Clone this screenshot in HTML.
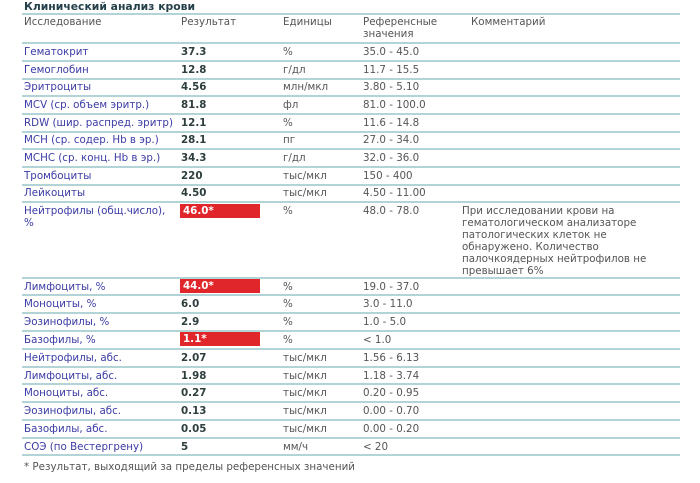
<!DOCTYPE html>
<html><head><meta charset="utf-8">
<style>
html,body{margin:0;padding:0;background:#fff;}
body{width:700px;height:483px;position:relative;overflow:hidden;font-family:"DejaVu Sans","Liberation Sans",sans-serif;font-size:10.3px;color:#555;}
.t{position:absolute;white-space:nowrap;line-height:12px;}
.ln{position:absolute;left:22px;width:658px;height:2px;background:#b2d4d7;}
.title{font-weight:bold;color:#24404a;font-size:10.8px;}
.n{color:#3b3ba6;}
.v{font-weight:bold;color:#2e3d3d;}
.u{color:#555;}
.r{color:#555;}
.red{position:absolute;left:180px;width:80px;height:14px;background:#e1262b;color:#fff;font-weight:bold;line-height:14px;padding-left:3px;box-sizing:border-box;}
</style></head><body>
<div class="t title" style="left:24px;top:1px;">Клинический анализ крови</div>
<div class="ln" style="top:13px"></div>
<div class="t" style="left:24px;top:16px;">Исследование</div>
<div class="t" style="left:181px;top:16px;">Результат</div>
<div class="t" style="left:283px;top:16px;">Единицы</div>
<div class="t" style="left:363px;top:16px;">Референсные<br>значения</div>
<div class="t" style="left:471px;top:16px;">Комментарий</div>
<div class="ln" style="top:42px"></div>

<!-- rows part 1 -->
<div class="t n" style="left:24px;top:46px">Гематокрит</div><div class="t v" style="left:181px;top:46px">37.3</div><div class="t u" style="left:283px;top:46px">%</div><div class="t r" style="left:363px;top:46px">35.0 - 45.0</div>
<div class="ln" style="top:60px"></div>
<div class="t n" style="left:24px;top:63.6px">Гемоглобин</div><div class="t v" style="left:181px;top:63.6px">12.8</div><div class="t u" style="left:283px;top:63.6px">г/дл</div><div class="t r" style="left:363px;top:63.6px">11.7 - 15.5</div>
<div class="ln" style="top:77.6px"></div>
<div class="t n" style="left:24px;top:81.3px">Эритроциты</div><div class="t v" style="left:181px;top:81.3px">4.56</div><div class="t u" style="left:283px;top:81.3px">млн/мкл</div><div class="t r" style="left:363px;top:81.3px">3.80 - 5.10</div>
<div class="ln" style="top:95.3px"></div>
<div class="t n" style="left:24px;top:98.9px">MCV (ср. объем эритр.)</div><div class="t v" style="left:181px;top:98.9px">81.8</div><div class="t u" style="left:283px;top:98.9px">фл</div><div class="t r" style="left:363px;top:98.9px">81.0 - 100.0</div>
<div class="ln" style="top:112.9px"></div>
<div class="t n" style="left:24px;top:116.6px">RDW (шир. распред. эритр)</div><div class="t v" style="left:181px;top:116.6px">12.1</div><div class="t u" style="left:283px;top:116.6px">%</div><div class="t r" style="left:363px;top:116.6px">11.6 - 14.8</div>
<div class="ln" style="top:130.6px"></div>
<div class="t n" style="left:24px;top:134.2px">MCH (ср. содер. Hb в эр.)</div><div class="t v" style="left:181px;top:134.2px">28.1</div><div class="t u" style="left:283px;top:134.2px">пг</div><div class="t r" style="left:363px;top:134.2px">27.0 - 34.0</div>
<div class="ln" style="top:148.2px"></div>
<div class="t n" style="left:24px;top:151.9px">MCHC (ср. конц. Hb в эр.)</div><div class="t v" style="left:181px;top:151.9px">34.3</div><div class="t u" style="left:283px;top:151.9px">г/дл</div><div class="t r" style="left:363px;top:151.9px">32.0 - 36.0</div>
<div class="ln" style="top:165.9px"></div>
<div class="t n" style="left:24px;top:169.5px">Тромбоциты</div><div class="t v" style="left:181px;top:169.5px">220</div><div class="t u" style="left:283px;top:169.5px">тыс/мкл</div><div class="t r" style="left:363px;top:169.5px">150 - 400</div>
<div class="ln" style="top:183.5px"></div>
<div class="t n" style="left:24px;top:187.2px">Лейкоциты</div><div class="t v" style="left:181px;top:187.2px">4.50</div><div class="t u" style="left:283px;top:187.2px">тыс/мкл</div><div class="t r" style="left:363px;top:187.2px">4.50 - 11.00</div>
<div class="ln" style="top:201.2px"></div>

<!-- neutrophils -->
<div class="t n" style="left:24px;top:205px">Нейтрофилы (общ.число),<br>%</div>
<div class="red" style="top:204px">46.0*</div>
<div class="t u" style="left:283px;top:205px">%</div>
<div class="t r" style="left:363px;top:205px">48.0 - 78.0</div>
<div class="t r" style="left:462px;top:205px">При исследовании крови на<br>гематологическом анализаторе<br>патологических клеток не<br>обнаружено. Количество<br>палочкоядерных нейтрофилов не<br>превышает 6%</div>
<div class="ln" style="top:276.5px"></div>

<!-- rows part 2 -->
<div class="red" style="top:279px">44.0*</div><div class="t n" style="left:24px;top:280.5px">Лимфоциты, %</div><div class="t u" style="left:283px;top:280.5px">%</div><div class="t r" style="left:363px;top:280.5px">19.0 - 37.0</div>
<div class="ln" style="top:294.3px"></div>
<div class="t n" style="left:24px;top:298.3px">Моноциты, %</div><div class="t v" style="left:181px;top:298.3px">6.0</div><div class="t u" style="left:283px;top:298.3px">%</div><div class="t r" style="left:363px;top:298.3px">3.0 - 11.0</div>
<div class="ln" style="top:312.1px"></div>
<div class="t n" style="left:24px;top:316.1px">Эозинофилы, %</div><div class="t v" style="left:181px;top:316.1px">2.9</div><div class="t u" style="left:283px;top:316.1px">%</div><div class="t r" style="left:363px;top:316.1px">1.0 - 5.0</div>
<div class="ln" style="top:329.9px"></div>
<div class="red" style="top:332.4px">1.1*</div><div class="t n" style="left:24px;top:333.9px">Базофилы, %</div><div class="t u" style="left:283px;top:333.9px">%</div><div class="t r" style="left:363px;top:333.9px">&lt; 1.0</div>
<div class="ln" style="top:347.7px"></div>
<div class="t n" style="left:24px;top:351.7px">Нейтрофилы, абс.</div><div class="t v" style="left:181px;top:351.7px">2.07</div><div class="t u" style="left:283px;top:351.7px">тыс/мкл</div><div class="t r" style="left:363px;top:351.7px">1.56 - 6.13</div>
<div class="ln" style="top:365.5px"></div>
<div class="t n" style="left:24px;top:369.5px">Лимфоциты, абс.</div><div class="t v" style="left:181px;top:369.5px">1.98</div><div class="t u" style="left:283px;top:369.5px">тыс/мкл</div><div class="t r" style="left:363px;top:369.5px">1.18 - 3.74</div>
<div class="ln" style="top:383.3px"></div>
<div class="t n" style="left:24px;top:387.3px">Моноциты, абс.</div><div class="t v" style="left:181px;top:387.3px">0.27</div><div class="t u" style="left:283px;top:387.3px">тыс/мкл</div><div class="t r" style="left:363px;top:387.3px">0.20 - 0.95</div>
<div class="ln" style="top:401.1px"></div>
<div class="t n" style="left:24px;top:405.1px">Эозинофилы, абс.</div><div class="t v" style="left:181px;top:405.1px">0.13</div><div class="t u" style="left:283px;top:405.1px">тыс/мкл</div><div class="t r" style="left:363px;top:405.1px">0.00 - 0.70</div>
<div class="ln" style="top:418.9px"></div>
<div class="t n" style="left:24px;top:422.9px">Базофилы, абс.</div><div class="t v" style="left:181px;top:422.9px">0.05</div><div class="t u" style="left:283px;top:422.9px">тыс/мкл</div><div class="t r" style="left:363px;top:422.9px">0.00 - 0.20</div>
<div class="ln" style="top:436.7px"></div>
<div class="t n" style="left:24px;top:440.7px">СОЭ (по Вестергрену)</div><div class="t v" style="left:181px;top:440.7px">5</div><div class="t u" style="left:283px;top:440.7px">мм/ч</div><div class="t r" style="left:363px;top:440.7px">&lt; 20</div>
<div class="ln" style="top:454.3px"></div>

<div class="t" style="left:24px;top:461px;color:#555">* Результат, выходящий за пределы референсных значений</div>
</body></html>
